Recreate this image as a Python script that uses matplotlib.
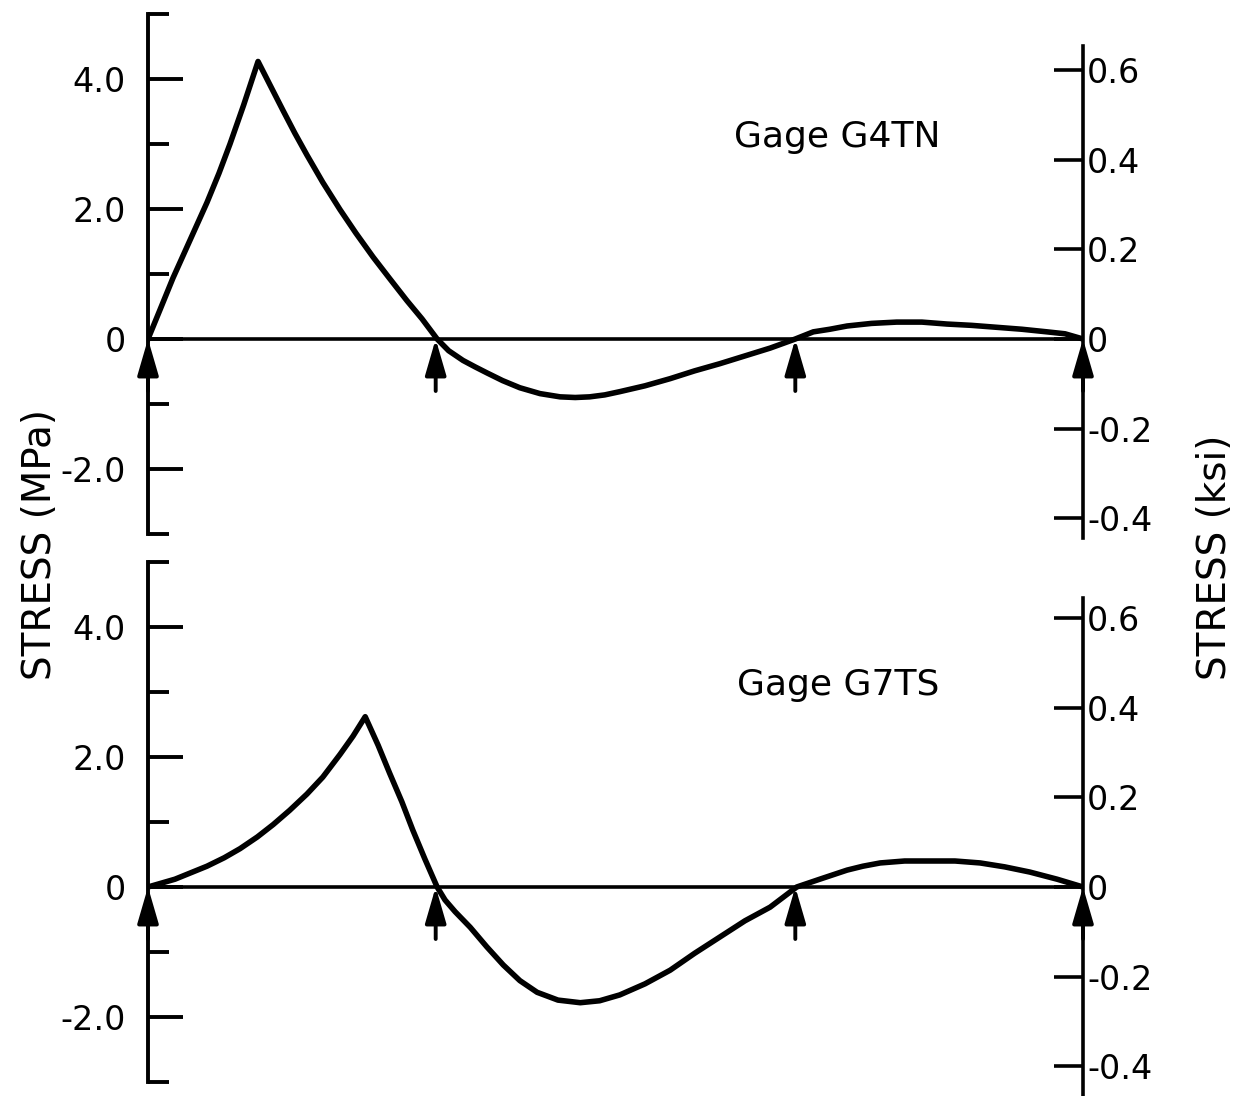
import matplotlib
matplotlib.use("Agg")
import matplotlib.pyplot as plt
import numpy as np

plt.rcParams['font.family'] = ['DejaVu Sans']

# Span geometry (arbitrary length units along the girder)
supports = [0, 40, 90, 130]

# Gage G4TN stress (MPa)
g4_x = [0, 1.67, 3.48, 5.84, 8.2, 9.87, 11.4, 13.3, 15.3,
        17.0, 18.8, 20.4, 22.1, 24.3, 26.7, 28.9, 31.3, 33.6, 36.0, 38.1, 40.2,
        41.8, 43.8, 45.5, 47.1, 49.3, 51.7, 54.5, 57.3, 59.4, 61.4, 63.5, 65.6,
        69.1, 72.6, 76.0, 79.5, 83.0, 86.5, 90.0,
        92.5, 94.8, 97.2, 100.6, 104.1, 107.6, 111.1, 114.5, 118.0, 121.5,
        125.0, 127.5, 130.0]
g4_y = [0, 0.45, 0.94, 1.52, 2.10, 2.55, 3.00, 3.60, 4.27,
        3.90, 3.51, 3.17, 2.83, 2.41, 1.99, 1.63, 1.26, 0.93, 0.59, 0.31, 0.0,
        -0.18, -0.33, -0.43, -0.52, -0.64, -0.75, -0.84, -0.89, -0.90, -0.89,
        -0.86, -0.81, -0.72, -0.61, -0.49, -0.38, -0.26, -0.14, 0.0,
        0.11, 0.15, 0.20, 0.24, 0.26, 0.26, 0.23, 0.21, 0.18, 0.15,
        0.11, 0.08, 0.0]

# Gage G7TS stress (MPa)
g7_x = [0, 3.75, 8.2, 10.6, 12.8, 15.2, 17.4, 19.7, 22.1, 24.3, 26.7, 28.5, 30.2,
        32.0, 33.6, 35.3, 36.8, 38.5, 40.2,
        41.3, 42.7, 44.8, 47.1, 49.4, 51.7, 54.1, 57.0, 60.1, 62.8, 65.6, 69.1,
        72.6, 76.0, 79.5, 83.0, 86.5, 90.2,
        93.4, 97.2, 99.4, 101.8, 105.2, 108.7, 112.2, 115.7, 119.1, 122.6,
        126.4, 130.0]
g7_y = [0, 0.12, 0.32, 0.45, 0.59, 0.77, 0.96, 1.18, 1.43, 1.69, 2.04, 2.32, 2.62,
        2.18, 1.75, 1.31, 0.88, 0.43, 0.0,
        -0.20, -0.38, -0.62, -0.92, -1.20, -1.44, -1.62, -1.74, -1.78, -1.75,
        -1.66, -1.49, -1.28, -1.02, -0.77, -0.52, -0.31, 0.0,
        0.12, 0.26, 0.32, 0.37, 0.40, 0.40, 0.40, 0.37, 0.31, 0.23,
        0.12, 0.0]

mpa_major = [-2, 0, 2, 4]
mpa_major_labels = ["-2.0", "0", "2.0", "4.0"]
mpa_minor = [-3, -1, 1, 3, 5]
ksi_ticks = [-0.4, -0.2, 0, 0.2, 0.4, 0.6]
ksi_labels = ["-0.4", "-0.2", "0", "0.2", "0.4", "0.6"]
gage_names = ["Gage G4TN", "Gage G7TS"]

KSI_PER_MPA = 1 / 6.895

W, H = 1243, 1096
fig = plt.figure(figsize=(W / 100, H / 100), dpi=100)

panels = [
    (g4_x, g4_y, gage_names[0], 14, (-0.445, 0.653)),
    (g7_x, g7_y, gage_names[1], 562, (-0.47, 0.645)),
]

for xs, ys, name, top_px, rbounds in panels:
    height_px = 520
    ax = fig.add_axes([148 / W, 1 - (top_px + height_px) / H, 935 / W, height_px / H])
    ax.set_xlim(0, 130)
    ax.set_ylim(-3, 5)
    for s in ['top', 'bottom', 'right']:
        ax.spines[s].set_visible(False)
    ax.spines['left'].set_linewidth(2.8)
    ax.spines['left'].set_bounds(-3, 5)
    ax.set_xticks([])
    ax.set_yticks(mpa_major)
    ax.set_yticklabels(mpa_major_labels)
    ax.set_yticks(mpa_minor, minor=True)
    ax.tick_params(axis='y', which='major', direction='in', length=25, width=2.8,
                   labelsize=24, pad=16)
    ax.tick_params(axis='y', which='minor', direction='in', length=15, width=2.8)

    ax.axhline(0, color='black', lw=2.6, zorder=2)
    ax.plot(xs, ys, color='black', lw=4.0, solid_joinstyle='round', zorder=3)

    for sx in supports:
        ax.annotate('', xy=(sx, 0), xytext=(sx, -0.8),
                    arrowprops=dict(arrowstyle='-|>,head_length=1.1,head_width=0.32',
                                    mutation_scale=20, color='black', lw=2.8,
                                    shrinkA=0, shrinkB=0), zorder=4)

    ax.text(95.9, 3.1, name, fontsize=26, ha='center', va='center')

    ax2 = ax.twinx()
    ax2.set_ylim(-3 * KSI_PER_MPA, 5 * KSI_PER_MPA)
    for s in ['top', 'bottom', 'left']:
        ax2.spines[s].set_visible(False)
    ax2.spines['right'].set_linewidth(2.6)
    ax2.spines['right'].set_bounds(*rbounds)
    ax2.set_yticks(ksi_ticks)
    ax2.set_yticklabels(ksi_labels)
    ax2.tick_params(axis='y', direction='in', length=21, width=2.6,
                    labelsize=24, pad=3)
    ax2.set_xticks([])

fig.text(40 / W, 1 - 545 / H, "STRESS (MPa)", rotation=90, fontsize=28,
         ha='center', va='center')
fig.text(1215 / W, 1 - 557 / H, "STRESS (ksi)", rotation=90, fontsize=28,
         ha='center', va='center')

fig.savefig("out.png", dpi=100)
